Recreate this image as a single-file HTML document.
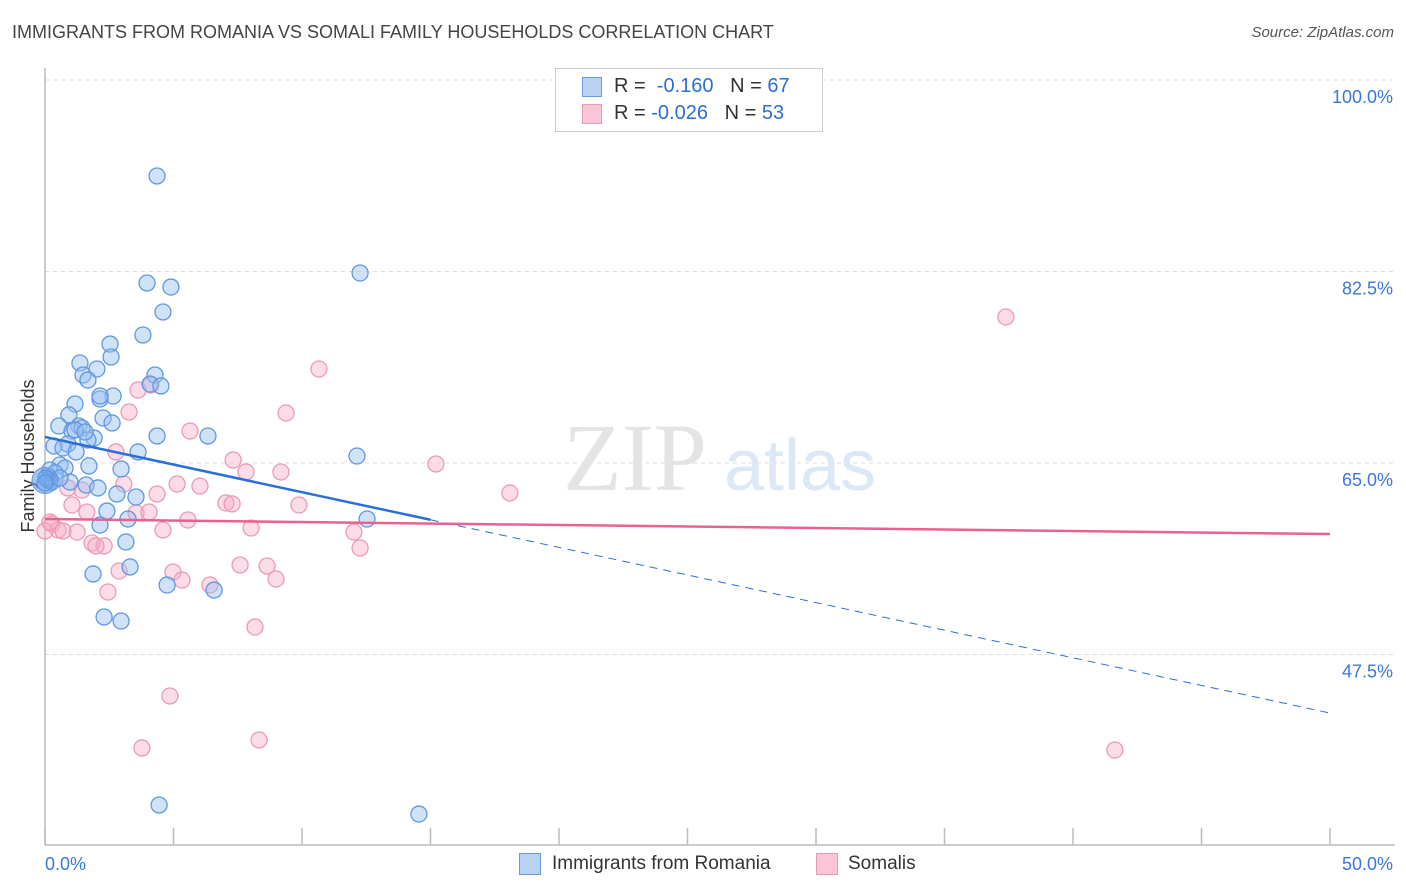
<!DOCTYPE html>
<html><head><meta charset="utf-8"><style>
body{margin:0;background:#fff;font-family:"Liberation Sans",sans-serif;}
#wrap{position:relative;width:1406px;height:892px;overflow:hidden;}
.t{position:absolute;white-space:nowrap;}
</style></head><body>
<div id="wrap">
<div class="t" style="left:12px;top:22px;font-size:18px;color:#444;">IMMIGRANTS FROM ROMANIA VS SOMALI FAMILY HOUSEHOLDS CORRELATION CHART</div>
<div class="t" style="right:12px;top:24px;font-size:15px;color:#555;font-style:italic;">Source: ZipAtlas.com</div>
<svg id="plot" width="1406" height="892" style="position:absolute;left:0;top:0"></svg>
</div>
<script>
const xTicksPct=[0,5,10,15,20,25,30,35,40,45,50];
const yTicks=[100,82.5,65,47.5];
const yTickLabels=["100.0%","82.5%","65.0%","47.5%"];
const xEndLabels=["0.0%","50.0%"];
const romaniaX=[4.36,12.26,3.97,4.90,4.59,3.81,2.53,2.57,1.36,2.02,1.48,1.67,4.28,4.09,4.51,2.65,2.14,1.17,0.93,2.26,2.61,0.54,1.32,1.05,1.44,1.91,1.67,4.36,6.34,0.89,0.35,0.70,1.21,3.62,12.14,0.58,1.71,2.96,0.19,0.78,0.39,0.12,0.27,0.97,1.60,2.06,2.80,3.54,2.41,3.23,2.14,12.53,3.15,1.87,3.31,4.75,6.58,2.30,2.96,4.44,14.55,0.04,0,0.58,1.17,1.56,2.14];
const romaniaY=[91.23,82.36,81.45,81.08,78.80,76.70,75.87,74.69,74.14,73.59,73.04,72.58,73.04,72.22,72.04,71.12,70.85,70.39,69.39,69.11,68.66,68.38,68.38,67.92,68.20,67.28,67.10,67.47,67.47,66.74,66.55,66.37,66.01,66.01,65.64,64.82,64.73,64.45,64.36,64.54,64.09,63.45,63.26,63.26,62.99,62.72,62.17,61.89,60.61,59.88,59.33,59.88,57.78,54.86,55.50,53.85,53.39,50.93,50.56,33.75,32.92,63.63,63.17,63.63,68.02,67.83,71.12];
const somaliX=[37.39,10.66,4.12,3.62,3.27,9.38,5.64,2.76,7.32,15.21,7.82,9.18,5.14,6.03,0.89,1.44,3.07,4.36,18.09,7.04,7.28,9.88,1.05,1.63,3.54,4.05,5.56,8.02,4.59,12.02,0.27,0.51,0,0.70,1.25,1.83,2.30,1.98,12.26,7.59,8.64,4.98,2.88,5.33,6.42,8.99,2.45,8.17,4.86,3.77,8.33,41.63,0.19];
const somaliY=[78.34,73.59,72.13,71.67,69.66,69.57,67.92,66.01,65.27,64.91,64.18,64.18,63.08,62.90,62.72,62.53,63.08,62.17,62.26,61.35,61.26,61.16,61.16,60.52,60.43,60.52,59.79,59.06,58.88,58.69,59.43,58.88,58.79,58.79,58.69,57.69,57.42,57.42,57.23,55.68,55.59,55.04,55.13,54.31,53.85,54.40,53.21,50.01,43.71,38.96,39.69,38.77,59.61];
const romaniaTrend=[67.38,42.15]; // value at x=0 and x=50
const romaniaSolidEnd=15;
const somaliTrend=[59.88,58.51];

const X0=45,X1=1330,YT=80,YB=845;
const xs=v=>X0+(v/50)*(X1-X0);
const ys=v=>YT+(100-v)/17.5*191.5;
const svg=document.getElementById('plot');
const NS='http://www.w3.org/2000/svg';
function mk(tag,attrs){const e=document.createElementNS(NS,tag);for(const k in attrs)e.setAttribute(k,attrs[k]);svg.appendChild(e);return e;}

yTicks.forEach((v,i)=>{
 const g=mk('line',{x1:X0,x2:1395,y1:ys(v),y2:ys(v),stroke:'#ddd','stroke-dasharray':'4,4','stroke-width':1});
 
 
 const t=mk('text',{x:1393,y:ys(v)+23,'text-anchor':'end','font-size':18,fill:'#3a78d8','font-family':'Liberation Sans, sans-serif'});
 t.textContent=yTickLabels[i];
 
 
});
const ax=mk('line',{x1:X0,x2:X0,y1:68,y2:YB,stroke:'#bbb','stroke-width':1.5});


const bx=mk('line',{x1:X0,x2:1395,y1:YB,y2:YB,stroke:'#bbb','stroke-width':1.5});


xTicksPct.forEach(v=>{
 const l=mk('line',{x1:xs(v),x2:xs(v),y1:828,y2:YB,stroke:'#bbb','stroke-width':1.5});
 
 
});
[[0,'start',45],[50,'end',1393]].forEach((d,i)=>{
 const t=mk('text',{x:d[2],y:870,'text-anchor':d[1],'font-size':18,fill:'#3a78d8','font-family':'Liberation Sans, sans-serif'});
 t.textContent=xEndLabels[i];
 
 
});
const yt=mk('text',{x:0,y:0,transform:'translate(34,456) rotate(-90)','text-anchor':'middle','font-size':18,fill:'#333','font-family':'Liberation Sans, sans-serif'});
yt.textContent='Family Households';



const wm1=mk('text',{x:635,y:490,'text-anchor':'middle','font-size':96,fill:'#e4e4e4','font-family':'Liberation Serif, serif'});
wm1.textContent='ZIP';


const wm2=mk('text',{x:800,y:490,'text-anchor':'middle','font-size':72,fill:'#dce8f6','font-family':'Liberation Sans, sans-serif'});
wm2.textContent='atlas';



somaliX.forEach((x,i)=>{
 const c=mk('circle',{cx:xs(x),cy:ys(somaliY[i]),r:8,fill:'rgba(247,170,195,0.4)',stroke:'#eb9ab6','stroke-width':1.3});
 
 
});
romaniaX.forEach((x,i)=>{
 const c=mk('circle',{cx:xs(x),cy:ys(romaniaY[i]),r:8,fill:'rgba(150,190,240,0.45)',stroke:'#5f97e0','stroke-width':1.3});
 
 
});
const big=mk('circle',{cx:xs(0),cy:ys(63.4),r:13,fill:'rgba(90,150,230,0.55)',stroke:'#5f97e0','stroke-width':1});



const rAt=x=>romaniaTrend[0]+(romaniaTrend[1]-romaniaTrend[0])*x/50;
const t1=mk('line',{x1:xs(0),y1:ys(rAt(0)),x2:xs(romaniaSolidEnd),y2:ys(rAt(romaniaSolidEnd)),stroke:'#2a6fd6','stroke-width':2.5});


const t2=mk('line',{x1:xs(romaniaSolidEnd),y1:ys(rAt(romaniaSolidEnd)),x2:xs(50),y2:ys(rAt(50)),stroke:'#2a6fd6','stroke-width':1,'stroke-dasharray':'8,6'});


const t3=mk('line',{x1:xs(0),y1:ys(somaliTrend[0]),x2:xs(50),y2:ys(somaliTrend[1]),stroke:'#e8628f','stroke-width':2.5});


</script>
<div class="t" style="left:555px;top:68px;width:266px;height:62px;border:1px solid #ccc;background:#fff;">
 <div class="t" style="left:26px;top:8px;width:18px;height:18px;background:#b8d2f4;border:1px solid #6a9be0;"></div>
 <div class="t" style="left:58px;top:6px;font-size:20px;color:#333;">R = <span style="color:#2a6fd6">&nbsp;-0.160</span>&nbsp;&nbsp;&nbsp;N = <span style="color:#2a6fd6">67</span></div>
 <div class="t" style="left:26px;top:35px;width:18px;height:18px;background:#f9c6d6;border:1px solid #eb9ab6;"></div>
 <div class="t" style="left:58px;top:33px;font-size:20px;color:#333;">R = <span style="color:#2a6fd6">-0.026</span>&nbsp;&nbsp;&nbsp;N = <span style="color:#2a6fd6">53</span></div>
</div>
<div class="t" style="left:519px;top:853px;width:20px;height:20px;background:#b8d2f4;border:1px solid #6a9be0;"></div>
<div class="t" style="left:552px;top:853px;font-size:19px;color:#333;">Immigrants from Romania</div>
<div class="t" style="left:816px;top:853px;width:20px;height:20px;background:#f9c6d6;border:1px solid #eb9ab6;"></div>
<div class="t" style="left:848px;top:853px;font-size:19px;color:#333;">Somalis</div>
</body></html>
